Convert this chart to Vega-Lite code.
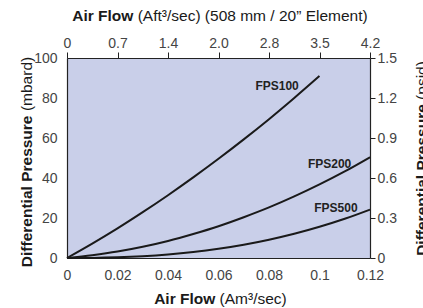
{
  "$schema": "https://vega.github.io/schema/vega-lite/v6.json",
  "width": 303,
  "height": 200,
  "autosize": {"type": "none"},
  "padding": {"left": 67, "top": 58, "right": 53, "bottom": 50},
  "background": "#ffffff",
  "config": {
    "view": {"fill": "#c9cfe9", "stroke": null},
    "axis": {
      "grid": false,
      "labelFont": "Liberation Sans",
      "labelFontSize": 14,
      "labelColor": "#444444",
      "labelFlush": false,
      "labelOverlap": false,
      "titleFont": "Liberation Sans",
      "titleFontSize": 15.5,
      "titleColor": "#1a1a1a",
      "domainColor": "#222222",
      "domainWidth": 1.2,
      "tickColor": "#222222",
      "tickWidth": 1
    }
  },
  "datasets": {
    "curves": [
      {"s": "FPS100", "q": 0, "dp": 0},
      {"s": "FPS100", "q": 0.01, "dp": 7.2},
      {"s": "FPS100", "q": 0.02, "dp": 14.8},
      {"s": "FPS100", "q": 0.03, "dp": 22.9},
      {"s": "FPS100", "q": 0.04, "dp": 31.4},
      {"s": "FPS100", "q": 0.05, "dp": 40.3},
      {"s": "FPS100", "q": 0.06, "dp": 49.6},
      {"s": "FPS100", "q": 0.07, "dp": 59.3},
      {"s": "FPS100", "q": 0.08, "dp": 69.4},
      {"s": "FPS100", "q": 0.09, "dp": 80},
      {"s": "FPS100", "q": 0.1, "dp": 91},
      {"s": "FPS200", "q": 0, "dp": 0},
      {"s": "FPS200", "q": 0.01, "dp": 1.4},
      {"s": "FPS200", "q": 0.02, "dp": 3.2},
      {"s": "FPS200", "q": 0.03, "dp": 5.6},
      {"s": "FPS200", "q": 0.04, "dp": 8.5},
      {"s": "FPS200", "q": 0.05, "dp": 12},
      {"s": "FPS200", "q": 0.06, "dp": 15.9},
      {"s": "FPS200", "q": 0.07, "dp": 20.4},
      {"s": "FPS200", "q": 0.08, "dp": 25.3},
      {"s": "FPS200", "q": 0.09, "dp": 30.8},
      {"s": "FPS200", "q": 0.1, "dp": 36.8},
      {"s": "FPS200", "q": 0.11, "dp": 43.3},
      {"s": "FPS200", "q": 0.12, "dp": 50.4},
      {"s": "FPS500", "q": 0, "dp": 0},
      {"s": "FPS500", "q": 0.01, "dp": 0.06},
      {"s": "FPS500", "q": 0.02, "dp": 0.33},
      {"s": "FPS500", "q": 0.03, "dp": 0.87},
      {"s": "FPS500", "q": 0.04, "dp": 1.73},
      {"s": "FPS500", "q": 0.05, "dp": 2.96},
      {"s": "FPS500", "q": 0.06, "dp": 4.59},
      {"s": "FPS500", "q": 0.07, "dp": 6.63},
      {"s": "FPS500", "q": 0.08, "dp": 9.14},
      {"s": "FPS500", "q": 0.09, "dp": 12.1},
      {"s": "FPS500", "q": 0.1, "dp": 15.6},
      {"s": "FPS500", "q": 0.11, "dp": 19.6},
      {"s": "FPS500", "q": 0.12, "dp": 24.2}
    ],
    "labels": [
      {"label": "FPS100", "q": 0.0832, "dp": 85.8},
      {"label": "FPS200", "q": 0.104, "dp": 47},
      {"label": "FPS500", "q": 0.1065, "dp": 25.1}
    ]
  },
  "layer": [
    {
      "data": {"name": "curves"},
      "mark": {"type": "line", "interpolate": "monotone", "color": "#1a1a1a", "strokeWidth": 2},
      "encoding": {
        "x": {
          "field": "q", "type": "quantitative",
          "scale": {"domain": [0, 0.12], "nice": false},
          "axis": {
            "orient": "bottom",
            "values": [0, 0.02, 0.04, 0.06, 0.08, 0.1, 0.12],
            "labelExpr": "['0','0.02','0.04','0.06','0.08','0.1','0.12'][round(datum.value/0.02)]",
            "ticks": false,
            "labelPadding": 10,
            "title": "Air Flow",
            "titleFontWeight": "bold",
            "titleAngle": 0,
            "titleAlign": "right",
            "titleBaseline": "alphabetic",
            "titleX": 147.8,
            "titleY": 45.5
          }
        },
        "y": {
          "field": "dp", "type": "quantitative",
          "scale": {"domain": [0, 100], "nice": false},
          "axis": {
            "orient": "left",
            "values": [0, 20, 40, 60, 80, 100],
            "ticks": false,
            "labelPadding": 10,
            "title": "Differential Pressure",
            "titleFontWeight": "bold",
            "titleAngle": -90,
            "titleAlign": "right",
            "titleBaseline": "alphabetic",
            "titleX": -36,
            "titleY": 57
          }
        },
        "detail": {"field": "s"}
      }
    },
    {
      "data": {"name": "labels"},
      "mark": {"type": "text", "font": "Liberation Sans", "fontWeight": "bold", "fontSize": 12, "color": "#222222", "align": "center", "baseline": "middle"},
      "encoding": {
        "x": {
          "field": "q", "type": "quantitative",
          "scale": {"domain": [0, 0.12], "nice": false},
          "axis": {
            "orient": "top",
            "values": [0, 0.02, 0.04, 0.06, 0.08, 0.1, 0.12],
            "labelExpr": "['0','0.7','1.4','2.0','2.8','3.5','4.2'][round(datum.value/0.02)]",
            "tickSize": 6,
            "labelPadding": 2,
            "title": "Air Flow",
            "titleFontWeight": "bold",
            "titleAngle": 0,
            "titleAlign": "right",
            "titleBaseline": "alphabetic",
            "titleX": 65.9,
            "titleY": -37.5
          }
        },
        "y": {
          "field": "dp", "type": "quantitative",
          "scale": {"domain": [0, 100], "nice": false},
          "axis": {
            "orient": "right",
            "values": [0, 20, 40, 60, 80, 100],
            "labelExpr": "['0','0.3','0.6','0.9','1.2','1.5'][round(datum.value/20)]",
            "tickSize": 5,
            "labelPadding": 2,
            "title": "Differential Pressure",
            "titleFontWeight": "bold",
            "titleAngle": -90,
            "titleAlign": "right",
            "titleBaseline": "alphabetic",
            "titleX": 56,
            "titleY": 45.7
          }
        },
        "text": {"field": "label"}
      }
    },
    {
      "data": {"name": "curves"},
      "mark": {"type": "line", "strokeOpacity": 0},
      "encoding": {
        "x": {
          "field": "q", "type": "quantitative",
          "scale": {"domain": [0, 0.12], "nice": false},
          "axis": {
            "orient": "bottom",
            "labels": false, "ticks": false, "domain": false,
            "title": "(Am³/sec)",
            "titleFontWeight": "normal",
            "titleAngle": 0,
            "titleAlign": "left",
            "titleBaseline": "alphabetic",
            "titleX": 152.1,
            "titleY": 45.5
          }
        },
        "y": {
          "field": "dp", "type": "quantitative",
          "scale": {"domain": [0, 100], "nice": false},
          "axis": {
            "orient": "left",
            "labels": false, "ticks": false, "domain": false,
            "title": "(mbard)",
            "titleFontWeight": "normal",
            "titleAngle": -90,
            "titleAlign": "left",
            "titleBaseline": "alphabetic",
            "titleX": -36,
            "titleY": 52.6
          }
        },
        "detail": {"field": "s"}
      }
    },
    {
      "data": {"name": "curves"},
      "mark": {"type": "line", "strokeOpacity": 0},
      "encoding": {
        "x": {
          "field": "q", "type": "quantitative",
          "scale": {"domain": [0, 0.12], "nice": false},
          "axis": {
            "orient": "top",
            "labels": false, "ticks": false, "domain": false,
            "title": "(Aft³/sec) (508 mm / 20” Element)",
            "titleFontWeight": "normal",
            "titleAngle": 0,
            "titleAlign": "left",
            "titleBaseline": "alphabetic",
            "titleX": 70.2,
            "titleY": -37.5
          }
        },
        "y": {
          "field": "dp", "type": "quantitative",
          "scale": {"domain": [0, 100], "nice": false},
          "axis": {
            "orient": "right",
            "labels": false, "ticks": false, "domain": false,
            "title": "(psid)",
            "titleFontWeight": "normal",
            "titleAngle": -90,
            "titleAlign": "left",
            "titleBaseline": "alphabetic",
            "titleX": 56,
            "titleY": 41.4
          }
        },
        "detail": {"field": "s"}
      }
    }
  ],
  "resolve": {
    "scale": {"x": "independent", "y": "independent"},
    "axis": {"x": "independent", "y": "independent"}
  }
}
